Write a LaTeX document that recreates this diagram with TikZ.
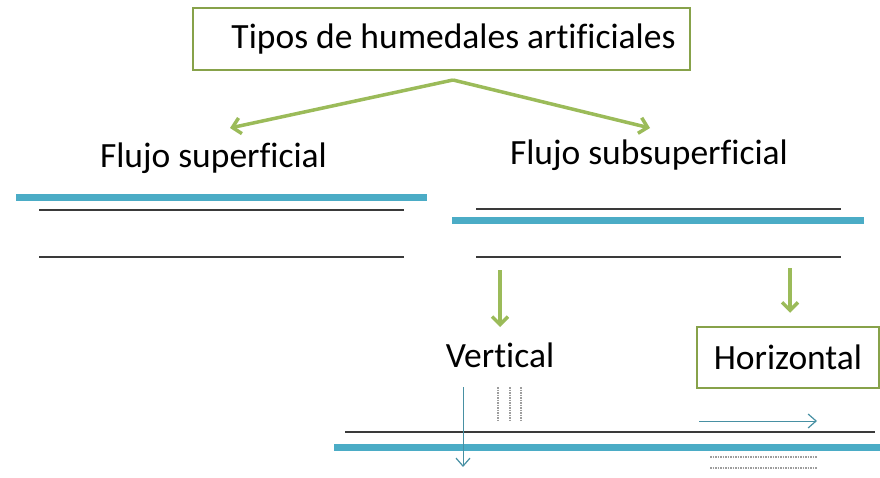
\documentclass[tikz,border=0pt]{standalone}
\usepackage{fontspec}
\setmainfont[Ligatures=NoCommon]{Carlito}
\usepackage{tikz}
\usetikzlibrary{positioning,arrows.meta}
\definecolor{verde}{HTML}{9BBB59}
\definecolor{borde}{HTML}{87A24A}
\definecolor{agua}{HTML}{4BACC6}
\definecolor{gris}{HTML}{3A3A3A}

\begin{document}
\begin{tikzpicture}[x=1pt, y=-1pt,
    texto/.style={inner sep=0pt, font=\fontsize{35.5}{42}\selectfont},
    caja/.style={texto, draw=borde, line width=2.5pt},
    flecha/.style={verde, line width=3.5pt, -{Straight Barb[length=8pt, width=16pt, line width=3.5pt]}},
    flujo/.style={agua!75!gris, line width=1pt, -{Straight Barb[length=8pt, width=14pt, line width=1.2pt]}},
    capa/.style={gris, line width=1.4pt},
    banda/.style={agua, line width=7pt},
    puntos/.style={gris!50, line width=1.3pt, dash pattern=on 1.5pt off 1pt}]
    \useasboundingbox (0,0) rectangle (880,478);

    % Titulo y tipos
    \node [caja, minimum width=497, minimum height=62] (titulo) at (441.5,39) {\hspace*{24pt}Tipos de humedales artificiales};
    \node [texto, anchor=base] (superf) at (213.5,168) {Flujo superficial};
    \node [texto, anchor=base] (subsup) at (649,165) {Flujo subsuperficial};

    \coordinate (split) at (453,80);
    \coordinate (fsup) at (230,128);
    \coordinate (fsub) at (650,128);
    \draw [flecha] (split) -- (fsup);
    \draw [flecha] (split) -- (fsub);

    % Flujo superficial
    \draw [banda] (16,198) -- (427,198);
    \draw [capa] (39,210) -- (404,210);
    \draw [capa] (39,257) -- (404,257);

    % Flujo subsuperficial
    \draw [capa] (476,209) -- (841,209);
    \draw [banda] (452,221) -- (864,221);
    \draw [capa] (476,257) -- (841,257);

    % Vertical / Horizontal
    \node [texto, anchor=base] (vert) at (500,367) {Vertical};
    \node [caja, minimum width=182, minimum height=61] (horiz) at (788,357.5) {Horizontal};

    \coordinate (vini) at (500,270);
    \coordinate (vfin) at (500,327);
    \coordinate (hini) at (790,268);
    \draw [flecha] (vini) -- (vfin);
    \draw [flecha] (hini) -- ([yshift=13pt]horiz.north -| hini);

    % Lecho inferior
    \draw [capa] (345,432) -- (875,432);
    \draw [banda] (334,447) -- (880,447);
    \foreach \x in {498,510,521}
        \draw [puntos] (\x,387) -- (\x,421);
    \draw [flujo] (463,387) -- (463,467);
    \draw [flujo] (699,421) -- (817,421);
    \draw [puntos] (710,457) -- (817,457);
    \draw [puntos] (710,468) -- (817,468);
\end{tikzpicture}
\end{document}
